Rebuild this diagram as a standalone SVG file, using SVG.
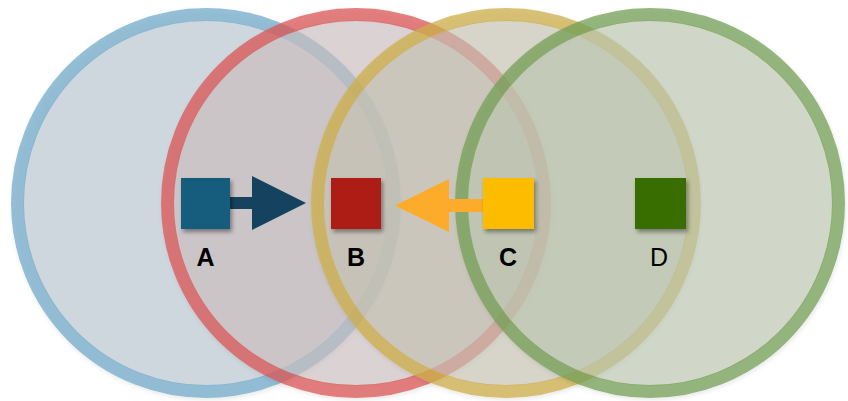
<svg xmlns="http://www.w3.org/2000/svg" width="848" height="401" viewBox="0 0 848 401">
<defs>
<filter id="cs" x="-10%" y="-10%" width="120%" height="120%"><feDropShadow dx="1" dy="2" stdDeviation="2" flood-color="#000" flood-opacity="0.12"/></filter>
<filter id="ss" x="-30%" y="-30%" width="160%" height="160%"><feDropShadow dx="2" dy="3" stdDeviation="2.2" flood-color="#000" flood-opacity="0.4"/></filter>
</defs>
<style>
.fill{stroke:none;fill-opacity:0.65}
.ring{fill:none;stroke-width:13;stroke-opacity:0.75}
.lbl{font-family:"Liberation Sans",Arial,sans-serif;font-size:25px;text-anchor:middle;fill:#000}
.b{font-weight:bold}
</style>
<rect width="848" height="401" fill="#fff"/>
<g id="set-blue" filter="url(#cs)">
<circle class="fill" cx="206" cy="203" r="183" fill="#bcc8d3"/>
<circle class="ring" cx="206" cy="203" r="188.5" stroke="#73abca"/>
</g>
<g id="set-red" filter="url(#cs)">
<circle class="fill" cx="356" cy="203" r="183" fill="#cdc0c2"/>
<circle class="ring" cx="356" cy="203" r="188.5" stroke="#db5656"/>
</g>
<g id="set-yellow" filter="url(#cs)">
<circle class="fill" cx="506" cy="203" r="183" fill="#c7c5b3"/>
<circle class="ring" cx="506" cy="203" r="188.5" stroke="#ceaf4b"/>
</g>
<g id="set-green" filter="url(#cs)">
<circle class="fill" cx="650" cy="203" r="183" fill="#bdc8b1"/>
<circle class="ring" cx="650" cy="203" r="188.5" stroke="#76a056"/>
</g>
<g id="connectors">
<polygon points="227,197 252,197 252,176 306,203 252,230 252,209 227,209" fill="#15425f"/>
<polygon points="483,199 449,199 449,179 395,205.5 449,232 449,212 483,212" fill="#fcab2a"/>
</g>
<g id="node-A">
<rect x="181" y="178" width="49" height="51" fill="#165b7d" filter="url(#ss)"/>
<text class="lbl b" x="205.5" y="266">A</text>
</g>
<g id="node-B">
<rect x="331" y="178" width="50" height="51" fill="#ae1a16" filter="url(#ss)"/>
<text class="lbl b" x="356" y="266">B</text>
</g>
<g id="node-C">
<rect x="483" y="178" width="51" height="51" fill="#febc00" filter="url(#ss)"/>
<text class="lbl b" x="508" y="266">C</text>
</g>
<g id="node-D">
<rect x="635" y="178" width="51" height="51" fill="#386d00" filter="url(#ss)"/>
<text class="lbl" x="659" y="266">D</text>
</g>
</svg>
